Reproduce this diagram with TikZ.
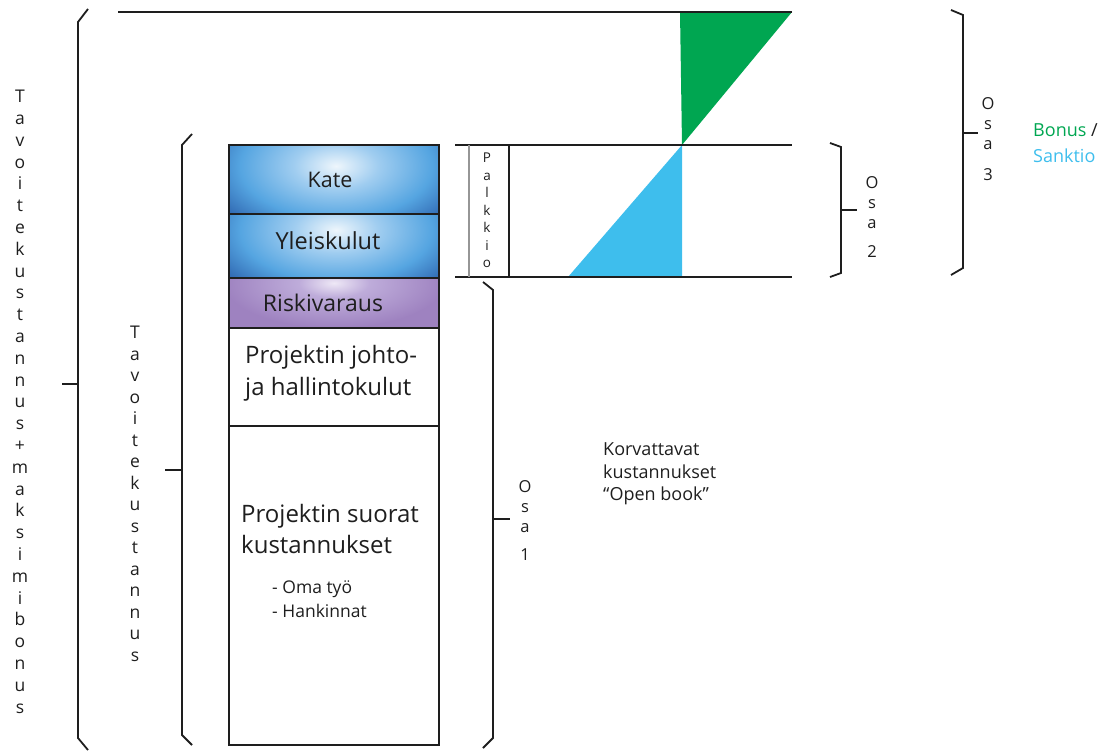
\documentclass[tikz,border=0pt]{standalone}
\usepackage{fontspec}
\setmainfont{Open Sans}

\definecolor{ink}{RGB}{30,30,30}
\definecolor{bonusgreen}{RGB}{0,166,81}
\definecolor{sanktioblue}{RGB}{62,190,237}
\definecolor{kDark}{RGB}{38,88,165}
\definecolor{kMid}{RGB}{85,165,225}
\definecolor{kSoft}{RGB}{160,205,240}
\definecolor{kLight}{RGB}{238,246,252}
\definecolor{rBase}{RGB}{158,130,192}
\definecolor{rSoft}{RGB}{190,172,218}
\definecolor{rLight}{RGB}{238,232,246}
\definecolor{palkkiogray}{RGB}{150,150,150}

% glow used for the blue cost layers
\pgfdeclareradialshading{glowblue}{\pgfpoint{0bp}{0bp}}{%
  color(0bp)=(kLight); color(7bp)=(kSoft); color(16bp)=(kMid);
  color(25bp)=(kDark); color(50bp)=(kDark)}
% glow used for the risk reserve layer
\pgfdeclareradialshading{glowpurple}{\pgfpoint{0bp}{0bp}}{%
  color(0bp)=(rLight); color(8bp)=(rSoft); color(25bp)=(rBase);
  color(50bp)=(rBase)}

\begin{document}
\begin{tikzpicture}[x=1pt,y=-1pt,
  line/.style={draw=ink,line width=1.8pt},
  brace/.style={draw=ink,line width=1.8pt,line join=miter},
  stack/.style={inner sep=0pt,align=center,text=ink},
  bigtxt/.style={inner sep=0pt,text=ink,font=\fontsize{24}{30}\selectfont},
  smalltxt/.style={inner sep=0pt,text=ink,font=\fontsize{17.5}{21}\selectfont},
  notetxt/.style={inner sep=0pt,text=ink,font=\fontsize{18}{22}\selectfont},
  osatxt/.style={stack,font=\fontsize{16.5}{20.3}\selectfont}]
\useasboundingbox (0,0) rectangle (1107,752);

% ---- coloured layers of the cost column
\fill[kDark] (229,145) rectangle (439,214);
\begin{scope}
  \clip (229,145) rectangle (439,214);
  \shade[shading=glowblue] (336,166) ellipse [x radius=150pt, y radius=82pt];
\end{scope}
\fill[kDark] (229,214) rectangle (439,278);
\begin{scope}
  \clip (229,214) rectangle (439,278);
  \shade[shading=glowblue] (336,230) ellipse [x radius=150pt, y radius=80pt];
\end{scope}
\fill[rBase] (229,278) rectangle (439,328);
\begin{scope}
  \clip (229,278) rectangle (439,328);
  \shade[shading=glowpurple] (334,283) ellipse [x radius=110pt, y radius=45pt];
\end{scope}

% ---- bonus / sanction wedges
\fill[bonusgreen] (680,12) -- (792,12) -- (682,145) -- cycle;
\fill[sanktioblue] (682,145) -- (682,277) -- (568,277) -- cycle;

% ---- column outline and layer borders
\coordinate (colNW) at (229,145);
\coordinate (colSE) at (439,745);
\draw[line] (colNW) rectangle (colSE);
\foreach \yy/\nm in {214/a,278/b,328/c,426/d}{
  \coordinate (L\nm) at (229,\yy);
  \coordinate (R\nm) at (439,\yy);
  \draw[line] (L\nm) -- (R\nm);
}

% ---- horizontal levels
\coordinate (topL) at (118,12);   \coordinate (topR) at (792,12);
\coordinate (midL) at (455,145);  \coordinate (midR) at (792,145);
\coordinate (lowL) at (455,277);  \coordinate (lowR) at (792,277);
\draw[line] (topL) -- (topR);
\draw[line] (midL) -- (midR);
\draw[line] (lowL) -- (lowR);

% ---- fee strip
\coordinate (pA1) at (469,145); \coordinate (pA2) at (469,277);
\coordinate (pB1) at (509,145); \coordinate (pB2) at (509,277);
\draw[palkkiogray,line width=1.4pt] (pA1) -- (pA2);
\draw[ink,line width=1.4pt] (pB1) -- (pB2);
\node[stack,anchor=north,font=\fontsize{13.5}{17.5}\selectfont] (palkkio) at (487,153)
  {P\\a\\l\\k\\k\\i\\o};

% ---- braces
\draw[brace] (88,9) -- (78,22) -- (78,738) -- (88,750);
\draw[brace] (78,384) -- (62,384);
\draw[brace] (192,134) -- (182,145) -- (182,735) -- (192,745);
\draw[brace] (182,470) -- (165,470);
\draw[brace] (483,282) -- (493,290) -- (493,738) -- (483,748);
\draw[brace] (493,519) -- (510,519);
\draw[brace] (830,143) -- (841,147) -- (841,273) -- (830,277);
\draw[brace] (841,210) -- (857,210);
\draw[brace] (951,10) -- (963,15) -- (963,268) -- (951,275);
\draw[brace] (963,133) -- (978,133);

% ---- vertical labels of the left braces
\node[stack,anchor=north,font=\fontsize{17.5}{21.8}\selectfont] (outerlbl) at (20,90)
  {T\\a\\v\\o\\i\\t\\e\\k\\u\\s\\t\\a\\n\\n\\u\\s\\+\\m\\a\\k\\s\\i\\m\\i\\b\\o\\n\\u\\s};
\node[stack,anchor=north,font=\fontsize{17.5}{21.5}\selectfont] (innerlbl) at (135,326)
  {T\\a\\v\\o\\i\\t\\e\\k\\u\\s\\t\\a\\n\\n\\u\\s};

% ---- part labels
\node[osatxt,anchor=north] (osa1) at (525,480) {O\\s\\a};
\node[osatxt,anchor=base] (osa1n) at (525,560) {1};
\node[osatxt,anchor=north] (osa2) at (872,176) {O\\s\\a};
\node[osatxt,anchor=base] (osa2n) at (872,257) {2};
\node[osatxt,anchor=north] (osa3) at (988,97) {O\\s\\a};
\node[osatxt,anchor=base] (osa3n) at (988,180) {3};

% ---- layer texts
\node[inner sep=0pt,text=ink,font=\fontsize{21.5}{25}\selectfont,anchor=base] (kate) at (330,187) {Kate};
\node[inner sep=0pt,text=ink,font=\fontsize{23.5}{28}\selectfont,anchor=base] (yleis) at (328,249) {Yleiskulut};
\node[inner sep=0pt,text=ink,font=\fontsize{23}{28}\selectfont,anchor=base] (riski) at (323,311) {Riskivaraus};
\node[bigtxt,anchor=base west] (johto1) at (245,363) {Projektin johto-};
\node[bigtxt,anchor=base west] (johto2) at (245,395) {ja hallintokulut};
\node[bigtxt,anchor=base west] (suorat1) at (241,522) {Projektin suorat};
\node[bigtxt,anchor=base west] (suorat2) at (241,553) {kustannukset};
\node[smalltxt,anchor=base west] (oma) at (272,593) {- Oma työ};
\node[smalltxt,anchor=base west] (hank) at (272,617) {- Hankinnat};

% ---- side notes
\node[notetxt,anchor=base west] (korv1) at (603,455) {Korvattavat};
\node[notetxt,anchor=base west] (korv2) at (603,478) {kustannukset};
\node[notetxt,anchor=base west] (korv3) at (603,500) {“Open book”};
\node[notetxt,anchor=base west] (bonus) at (1033,136)
  {\textcolor{bonusgreen}{Bonus} /};
\node[notetxt,anchor=base west,text=sanktioblue] (sanktio) at (1033,162) {Sanktio};
\end{tikzpicture}
\end{document}
